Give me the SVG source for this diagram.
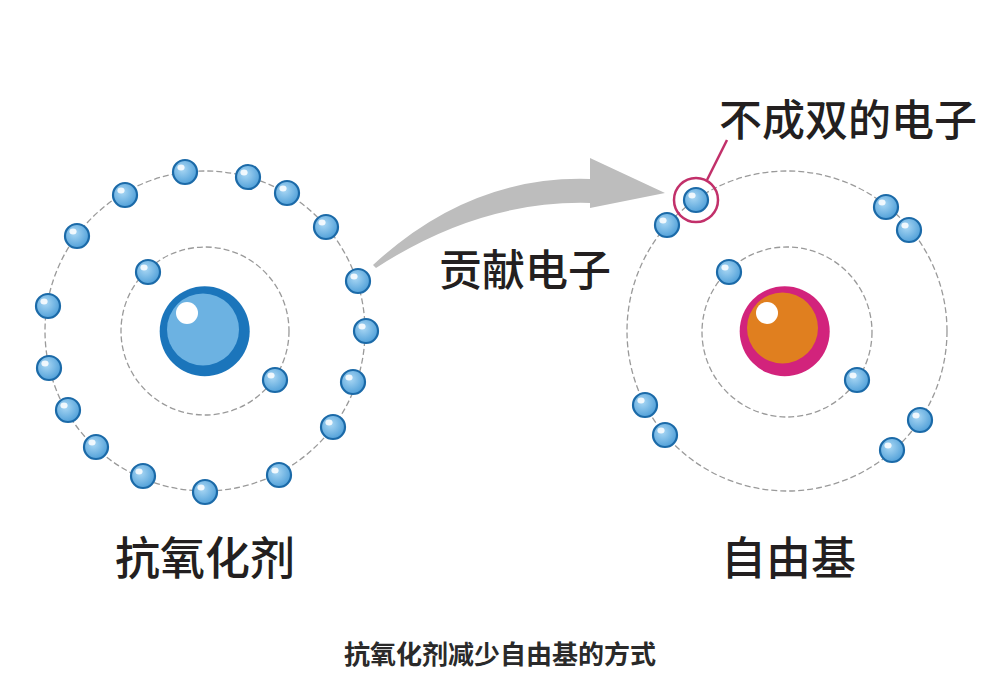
<svg xmlns="http://www.w3.org/2000/svg" xmlns:xlink="http://www.w3.org/1999/xlink" width="999" height="677" viewBox="0 0 999 677">
<style>
.orbit{fill:none;stroke:#9a9a9a;stroke-width:1.3;stroke-dasharray:6 3}
.lbl{font-family:"Noto Sans CJK SC","Noto Sans",sans-serif;font-weight:500;fill:#231f20}
.cap{font-family:"Noto Sans CJK SC","Noto Sans",sans-serif;font-weight:700;fill:#2a2a2a;font-size:26px}
.hl{fill:#ffffff}
</style>
<defs>
<radialGradient id="eg" cx="0.4" cy="0.38" r="0.65">
<stop offset="0" stop-color="#a9d7f4"/>
<stop offset="1" stop-color="#4f9fd8"/>
</radialGradient>
<g id="e">
<circle r="12" fill="url(#eg)" stroke="#1b6aa8" stroke-width="2.2"/>
<ellipse cx="-4" cy="-4.5" rx="3.6" ry="3" fill="#ffffff" opacity="0.85"/>
</g>
</defs>
<rect width="999" height="677" fill="#ffffff"/>

<g id="connectors">
<path d="M373,265 Q470,175 590,179 L590,158 L665,193 L590,208 L590,203 Q480,200 376,268 Z" fill="#bdbdbd"/>
<line x1="707" y1="180" x2="727" y2="140" stroke="#c2306a" stroke-width="2.5"/>
</g>

<g id="antioxidant">
<circle class="orbit" cx="205" cy="331" r="160"/>
<circle class="orbit" cx="205" cy="331" r="84"/>
<circle cx="204.7" cy="331.3" r="45" fill="#1b75bb"/>
<circle cx="203" cy="329.5" r="36" fill="#6cb2e2"/>
<circle class="hl" cx="187" cy="313" r="11"/>
<use xlink:href="#e" href="#e" x="185" y="172"/>
<use xlink:href="#e" href="#e" x="248" y="177"/>
<use xlink:href="#e" href="#e" x="287" y="193"/>
<use xlink:href="#e" href="#e" x="326" y="227"/>
<use xlink:href="#e" href="#e" x="358" y="281"/>
<use xlink:href="#e" href="#e" x="366" y="331"/>
<use xlink:href="#e" href="#e" x="353" y="382"/>
<use xlink:href="#e" href="#e" x="333" y="427"/>
<use xlink:href="#e" href="#e" x="279" y="475"/>
<use xlink:href="#e" href="#e" x="205" y="492"/>
<use xlink:href="#e" href="#e" x="143" y="476"/>
<use xlink:href="#e" href="#e" x="96" y="447"/>
<use xlink:href="#e" href="#e" x="68" y="410"/>
<use xlink:href="#e" href="#e" x="49" y="368"/>
<use xlink:href="#e" href="#e" x="48" y="306"/>
<use xlink:href="#e" href="#e" x="77" y="236"/>
<use xlink:href="#e" href="#e" x="125" y="195"/>
<use xlink:href="#e" href="#e" x="148" y="272"/>
<use xlink:href="#e" href="#e" x="275" y="380"/>
<text class="lbl" x="115" y="575" font-size="45">抗氧化剂</text>
</g>

<g id="free-radical">
<circle class="orbit" cx="787" cy="331" r="160"/>
<circle class="orbit" cx="787" cy="332" r="85"/>
<circle cx="784.7" cy="331.3" r="45" fill="#d2237c"/>
<circle cx="782.5" cy="328" r="35.5" fill="#e07f1f"/>
<circle class="hl" cx="767" cy="313" r="11"/>
<use xlink:href="#e" href="#e" x="696" y="200"/>
<use xlink:href="#e" href="#e" x="667" y="225"/>
<use xlink:href="#e" href="#e" x="886" y="207"/>
<use xlink:href="#e" href="#e" x="909" y="230"/>
<use xlink:href="#e" href="#e" x="729" y="272"/>
<use xlink:href="#e" href="#e" x="857" y="380"/>
<use xlink:href="#e" href="#e" x="645" y="405"/>
<use xlink:href="#e" href="#e" x="665" y="435"/>
<use xlink:href="#e" href="#e" x="920" y="420"/>
<use xlink:href="#e" href="#e" x="892" y="450"/>
<text class="lbl" x="721" y="575" font-size="45">自由基</text>
</g>

<g id="unpaired-marker">
<circle cx="696" cy="200" r="22" fill="none" stroke="#c2306a" stroke-width="2.5"/>
<text class="lbl" x="719" y="136" font-size="43">不成双的电子</text>
</g>

<g id="donate-label">
<text class="lbl" x="439" y="286" font-size="43">贡献电子</text>
</g>

<g id="caption">
<text class="cap" x="500" y="664" text-anchor="middle">抗氧化剂减少自由基的方式</text>
</g>
</svg>
